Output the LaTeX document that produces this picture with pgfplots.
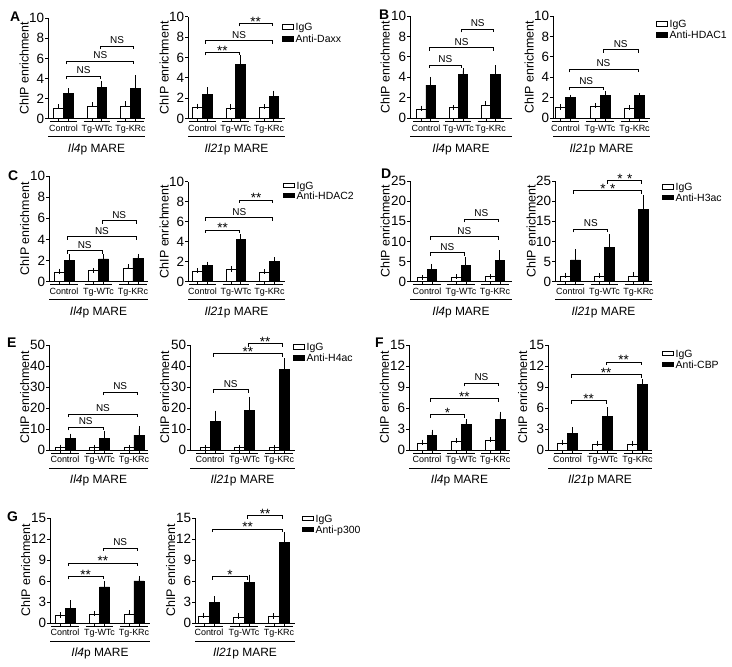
\documentclass[border=0pt]{standalone}
\usepackage{fontspec}
\setmainfont{Liberation Sans}
\usepackage{pgfplots}
\pgfplotsset{compat=1.18}

\newcommand\tickf{\fontsize{13.5}{15}\selectfont}
\newcommand\ylf{\fontsize{12.5}{14}\selectfont}
\newcommand\catf{\fontsize{9}{10}\selectfont}
\newcommand\maref{\fontsize{12}{14}\selectfont}
\newcommand\legf{\fontsize{10.5}{12}\selectfont}
\newcommand\nsf{\fontsize{10}{11}\selectfont}
\newcommand\starf{\fontsize{13.5}{14}\selectfont}
\newcommand\letf{\fontsize{14}{15}\selectfont\bfseries}
\newcommand\NS{{\nsf\raisebox{2.5bp}{NS}}}
\newcommand\ST{{\starf\raisebox{-2.8bp}{**}}}
\newcommand\SO{{\starf\raisebox{-2.8bp}{*}}}
\newcommand\SSp{{\starf\raisebox{-2.8bp}{*\,\,*}}}

\pgfplotsset{
 chip/.style={
  scale only axis, clip=false,
  axis x line*=bottom, axis y line*=left,
  axis line style={line width=0.9bp, black},
  ymin=0,
  xtick={0,1,2}, xticklabels={Control,Tg-WTc,Tg-KRc},
  x tick style={draw=none},
  xticklabel style={font=\catf, anchor=base, yshift=-10bp, inner sep=0pt},
  tick align=outside, major tick length=3bp,
  y tick style={line width=0.9bp, black},
  yticklabel style={font=\tickf, inner sep=0.8pt},
  ylabel={ChIP enrichment},
  ylabel style={font=\ylf, at={(axis description cs:-0.2,0.5)}, anchor=base},
  xlabel style={font=\maref, at={(axis description cs:0.5,0)}, anchor=base, yshift=-34bp},
  /pgf/number format/assume math mode=true,
 },
 ebar/.style={error bars/.cd, y dir=plus, y explicit,
   error bar style={line width=0.9bp, black},
   error mark options={mark size=2.6bp, line width=0.9bp, black}},
 igg/.style={ybar, bar width=0.29, bar shift=0, fill=white, draw=black, line width=0.8bp, ebar},
 ab/.style={ybar, bar width=0.29, bar shift=0, fill=black, draw=black, line width=0.8bp, ebar},
}

\newcommand\grps{%
 \draw[line width=0.8bp] ([yshift=-3bp]axis cs:-0.4,0) -- ([yshift=-3bp]axis cs:0.4,0);
 \draw[line width=0.8bp] ([yshift=-3bp]axis cs:-0.145,0) -- (axis cs:-0.145,0);
 \draw[line width=0.8bp] ([yshift=-3bp]axis cs:0.145,0) -- (axis cs:0.145,0);
 \draw[line width=0.8bp] ([yshift=-3bp]axis cs:0.6,0) -- ([yshift=-3bp]axis cs:1.4,0);
 \draw[line width=0.8bp] ([yshift=-3bp]axis cs:0.855,0) -- (axis cs:0.855,0);
 \draw[line width=0.8bp] ([yshift=-3bp]axis cs:1.145,0) -- (axis cs:1.145,0);
 \draw[line width=0.8bp] ([yshift=-3bp]axis cs:1.6,0) -- ([yshift=-3bp]axis cs:2.4,0);
 \draw[line width=0.8bp] ([yshift=-3bp]axis cs:1.855,0) -- (axis cs:1.855,0);
 \draw[line width=0.8bp] ([yshift=-3bp]axis cs:2.145,0) -- (axis cs:2.145,0);
 \draw[line width=0.9bp] ([yshift=-18bp]axis description cs:0,0) -- ([yshift=-18bp]axis description cs:1,0);
}
\newcommand\brk[5]{%
 \draw[line width=0.9bp] ([yshift=-3bp]axis cs:#1,#4) -- (axis cs:#1,#4) -- (axis cs:#2,#4) -- ([yshift=-3bp]axis cs:#2,#4);
 \node[anchor=base, inner sep=0pt] at (axis cs:#3,#4) {#5};}
\newcommand\tri[6]{\brk{0.1}{1.1}{0.6}{#1}{#2}\brk{0.1}{2.1}{1.1}{#3}{#4}\brk{1.1}{2.1}{1.6}{#5}{#6}}
\newcommand\leg[4]{%
 \draw[line width=0.8bp, fill=white] (#1,{667-#2-2.3}) rectangle ++(11,4.6);
 \fill (#1,{667-#3-2.6}) rectangle ++(11.5,5.2);
 \node[anchor=base west, inner sep=0pt, font=\legf] at ({#1+13.5},{667-#2-3.7}) {IgG};
 \node[anchor=base west, inner sep=0pt, font=\legf] at ({#1+13.5},{667-#3-3.7}) {#4};}
\newcommand\plet[3]{\node[anchor=base west, inner sep=0pt, font=\letf] at (#1,{667-#2}) {#3};}

\begin{document}
\begin{tikzpicture}[x=1bp,y=1bp]
\useasboundingbox (0,0) rectangle (732,667);

% ---------- A ----------
\begin{axis}[chip, at={(48bp,548.3bp)}, anchor=south west, width=97bp, height=100.5bp,
  xmin=-0.463, xmax=2.433, ymax=10, ytick={0,2,...,10}, xlabel={\textit{Il4}p MARE}]
\addplot[igg] coordinates {(-0.145,1.0) +- (0,0.2) (0.855,1.25) +- (0,0.15) (1.855,1.25) +- (0,0.22)};
\addplot[ab] coordinates {(0.145,2.5) +- (0,0.25) (1.145,3.15) +- (0,0.3) (2.145,3.0) +- (0,1.05)};
\grps
\tri{4.2}{\NS}{5.7}{\NS}{7.2}{\NS}
\end{axis}
\begin{axis}[chip, at={(188bp,548.3bp)}, anchor=south west, width=97bp, height=102bp,
  xmin=-0.436, xmax=2.481, ymax=10, ytick={0,2,...,10}, xlabel={\textit{Il21}p MARE}]
\addplot[igg] coordinates {(-0.145,1.1) +- (0,0.12) (0.855,1.0) +- (0,0.15) (1.855,1.12) +- (0,0.05)};
\addplot[ab] coordinates {(0.145,2.4) +- (0,0.45) (1.145,5.3) +- (0,0.7) (2.145,2.15) +- (0,0.35)};
\grps
\tri{6.5}{\ST}{7.66}{\NS}{9.35}{\ST}
\end{axis}
\leg{282}{27}{39}{Anti-Daxx}
\plet{10}{21.7}{A}

% ---------- B ----------
\begin{axis}[chip, at={(410bp,548.7bp)}, anchor=south west, width=102bp, height=102.3bp,
  xmin=-0.495, xmax=2.663, ymax=10, ytick={0,2,...,10}, xlabel={\textit{Il4}p MARE}]
\addplot[igg] coordinates {(-0.145,0.88) +- (0,0.1) (0.855,1.05) +- (0,0) (1.855,1.25) +- (0,0.2)};
\addplot[ab] coordinates {(0.145,3.25) +- (0,0.55) (1.145,4.25) +- (0,0.4) (2.145,4.3) +- (0,0.65)};
\grps
\tri{5.2}{\NS}{6.9}{\NS}{8.7}{\NS}
\end{axis}
\begin{axis}[chip, at={(553bp,548.7bp)}, anchor=south west, width=97bp, height=102.3bp,
  xmin=-0.362, xmax=2.449, ymax=10, ytick={0,2,...,10}, xlabel={\textit{Il21}p MARE}]
\addplot[igg] coordinates {(-0.145,1.03) +- (0,0.08) (0.855,1.2) +- (0,0.05) (1.855,0.95) +- (0,0.1)};
\addplot[ab] coordinates {(0.145,2.0) +- (0,0.03) (1.145,2.2) +- (0,0.22) (2.145,2.2) +- (0,0.03)};
\grps
\tri{3.03}{\NS}{4.79}{\NS}{6.68}{\NS}
\end{axis}
\leg{656}{24}{35}{Anti-HDAC1}
\plet{379}{20}{B}

% ---------- C ----------
\begin{axis}[chip, at={(49bp,385.3bp)}, anchor=south west, width=99bp, height=105.7bp,
  xmin=-0.435, xmax=2.435, ymax=10, ytick={0,2,...,10}, xlabel={\textit{Il4}p MARE}]
\addplot[igg] coordinates {(-0.145,0.88) +- (0,0.1) (0.855,1.05) +- (0,0) (1.855,1.23) +- (0,0.18)};
\addplot[ab] coordinates {(0.145,2.05) +- (0,0.3) (1.145,2.15) +- (0,0.2) (2.145,2.24) +- (0,0.15)};
\grps
\tri{2.93}{\NS}{4.26}{\NS}{5.77}{\NS}
\end{axis}
\begin{axis}[chip, at={(188bp,385.3bp)}, anchor=south west, width=97bp, height=100bp,
  xmin=-0.433, xmax=2.463, ymax=10, ytick={0,2,...,10}, xlabel={\textit{Il21}p MARE}]
\addplot[igg] coordinates {(-0.145,1.03) +- (0,0.07) (0.855,1.23) +- (0,0.03) (1.855,0.9) +- (0,0.1)};
\addplot[ab] coordinates {(0.145,1.6) +- (0,0.15) (1.145,4.23) +- (0,0.27) (2.145,2.0) +- (0,0.2)};
\grps
\tri{5.17}{\ST}{6.4}{\NS}{8.17}{\ST}
\end{axis}
\leg{283}{185.5}{195.5}{Anti-HDAC2}
\plet{8}{180.7}{C}

% ---------- D ----------
\begin{axis}[chip, at={(410bp,385.3bp)}, anchor=south west, width=102bp, height=100.7bp,
  xmin=-0.5, xmax=2.5, ymax=25, ytick={0,5,...,25}, xlabel={\textit{Il4}p MARE}]
\addplot[igg] coordinates {(-0.145,1.0) +- (0,0.05) (0.855,1.0) +- (0,0.2) (1.855,1.2) +- (0,0.05)};
\addplot[ab] coordinates {(0.145,3.1) +- (0,0.65) (1.145,4.0) +- (0,1.5) (2.145,5.2) +- (0,1.9)};
\grps
\tri{7.2}{\NS}{11.2}{\NS}{15.5}{\NS}
\end{axis}
\begin{axis}[chip, at={(555bp,385.3bp)}, anchor=south west, width=97bp, height=100.7bp,
  xmin=-0.456, xmax=2.397, ymax=25, ytick={0,5,...,25}, xlabel={\textit{Il21}p MARE}]
\addplot[igg] coordinates {(-0.145,1.2) +- (0,0.4) (0.855,1.3) +- (0,0.2) (1.855,1.2) +- (0,0.6)};
\addplot[ab] coordinates {(0.145,5.4) +- (0,2.0) (1.145,8.4) +- (0,2.8) (2.145,18.0) +- (0,2.8)};
\grps
\tri{13.0}{\NS}{22.6}{\SSp}{25.1}{\SSp}
\end{axis}
\leg{662}{187}{197.5}{Anti-H3ac}
\plet{381}{179}{D}

% ---------- E ----------
\begin{axis}[chip, at={(49bp,217bp)}, anchor=south west, width=99bp, height=105bp,
  xmin=-0.464, xmax=2.406, ymax=50, ytick={0,10,...,50}, xlabel={\textit{Il4}p MARE}]
\addplot[igg] coordinates {(-0.145,1.0) +- (0,0.3) (0.855,1.0) +- (0,0.3) (1.855,1.0) +- (0,0.3)};
\addplot[ab] coordinates {(0.145,5.4) +- (0,1.1) (1.145,5.5) +- (0,2.4) (2.145,7.1) +- (0,2.9)};
\grps
\tri{10.8}{\NS}{17.1}{\NS}{27.6}{\NS}
\end{axis}
\begin{axis}[chip, at={(190bp,217bp)}, anchor=south west, width=105bp, height=105bp,
  xmin=-0.58, xmax=2.464, ymax=50, ytick={0,10,...,50}, xlabel={\textit{Il21}p MARE}]
\addplot[igg] coordinates {(-0.145,1.0) +- (0,0.3) (0.855,1.0) +- (0,0.3) (1.855,1.0) +- (0,0.3)};
\addplot[ab] coordinates {(0.145,13.8) +- (0,3.7) (1.145,19.0) +- (0,5.2) (2.145,38.5) +- (0,4.0)};
\grps
\tri{28.7}{\NS}{45.9}{\ST}{50.6}{\ST}
\end{axis}
\leg{293}{347}{358}{Anti-H4ac}
\plet{7}{348}{E}

% ---------- F ----------
\begin{axis}[chip, at={(409bp,217bp)}, anchor=south west, width=101bp, height=105bp,
  xmin=-0.53, xmax=2.44, ymax=15, ytick={0,3,...,15}, xlabel={\textit{Il4}p MARE}]
\addplot[igg] coordinates {(-0.145,1.0) +- (0,0.1) (0.855,1.2) +- (0,0.1) (1.855,1.3) +- (0,0.2)};
\addplot[ab] coordinates {(0.145,2.05) +- (0,0.5) (1.145,3.65) +- (0,0.4) (2.145,4.3) +- (0,0.8)};
\grps
\tri{5.05}{\SO}{7.3}{\ST}{9.5}{\NS}
\end{axis}
\begin{axis}[chip, at={(548bp,217bp)}, anchor=south west, width=104bp, height=105bp,
  xmin=-0.557, xmax=2.414, ymax=15, ytick={0,3,...,15}, xlabel={\textit{Il21}p MARE}]
\addplot[igg] coordinates {(-0.145,1.0) +- (0,0.1) (0.855,0.85) +- (0,0.1) (1.855,0.85) +- (0,0.1)};
\addplot[ab] coordinates {(0.145,2.3) +- (0,0.55) (1.145,4.85) +- (0,0.9) (2.145,9.35) +- (0,0.4)};
\grps
\tri{7.05}{\ST}{10.76}{\ST}{12.57}{\ST}
\end{axis}
\leg{662}{353.5}{364.5}{Anti-CBP}
\plet{375}{348}{F}

% ---------- G ----------
\begin{axis}[chip, at={(50bp,44bp)}, anchor=south west, width=100bp, height=105bp,
  xmin=-0.435, xmax=2.464, ymax=15, ytick={0,3,...,15}, xlabel={\textit{Il4}p MARE}]
\addplot[igg] coordinates {(-0.145,1.1) +- (0,0.05) (0.855,1.25) +- (0,0.1) (1.855,1.25) +- (0,0.2)};
\addplot[ab] coordinates {(0.145,2.05) +- (0,0.8) (1.145,5.15) +- (0,0.45) (2.145,6.0) +- (0,0.3)};
\grps
\tri{6.67}{\ST}{8.57}{\ST}{10.7}{\NS}
\end{axis}
\begin{axis}[chip, at={(195bp,44bp)}, anchor=south west, width=100bp, height=105bp,
  xmin=-0.4, xmax=2.457, ymax=15, ytick={0,3,...,15}, xlabel={\textit{Il21}p MARE}]
\addplot[igg] coordinates {(-0.145,1.0) +- (0,0.1) (0.855,0.85) +- (0,0.15) (1.855,0.9) +- (0,0.1)};
\addplot[ab] coordinates {(0.145,2.9) +- (0,0.55) (1.145,5.85) +- (0,0.7) (2.145,11.5) +- (0,1.1)};
\grps
\tri{6.6}{\SO}{13.4}{\ST}{15.3}{\ST}
\end{axis}
\leg{302}{518.5}{529.5}{Anti-p300}
\plet{7}{522}{G}

\end{tikzpicture}
\end{document}
